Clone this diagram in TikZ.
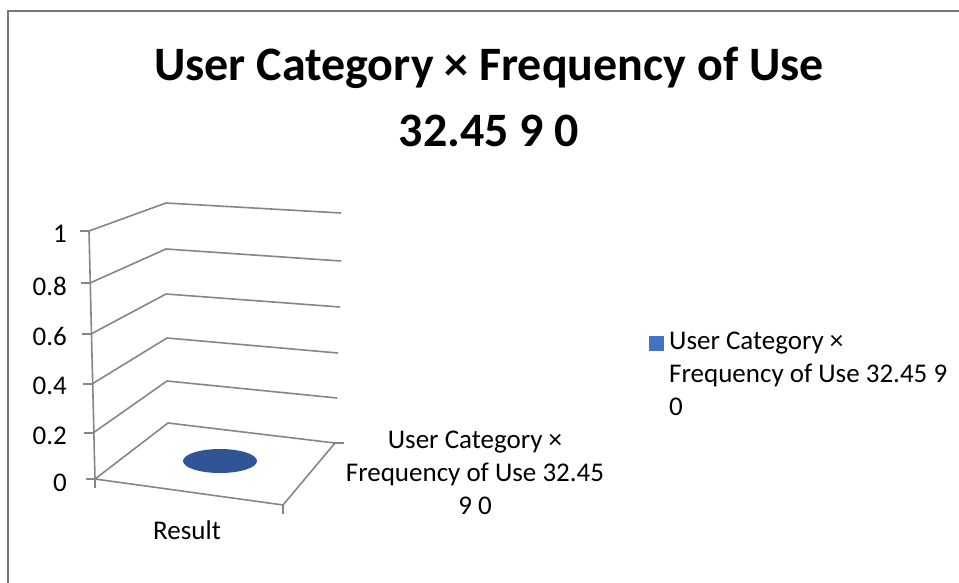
\documentclass[tikz,border=0pt]{standalone}
\usepackage{fontspec}
\setmainfont{Carlito}
\usetikzlibrary{positioning, shapes.geometric}
\definecolor{gridgray}{RGB}{134,134,134}
\definecolor{framegray}{RGB}{120,120,120}
\definecolor{discblue}{RGB}{47,85,151}
\definecolor{keyblue}{RGB}{68,114,196}
\tikzset{
    g1/.style={draw=gridgray, line width=1.6pt, line join=round},
    tk/.style={draw=gridgray, line width=1.6pt},
    lb/.style={inner sep=0pt, font=\fontsize{27}{33}\selectfont}
}
\begin{document}
\begin{tikzpicture}[x=1pt, y=-1pt]
\useasboundingbox (0,0) rectangle (959,583);

% frame (only left and top edges visible)
\draw[framegray, line width=1.5pt] (8,583) -- (8,11) -- (959,11);

% title
\node[inner sep=0pt, anchor=north, align=center, font=\fontsize{48}{66}\selectfont\bfseries] (T) at (489,47)
  {User Category × Frequency of Use\\32.45 9 0};

% Level 0 (floor)
\coordinate (L0F) at (95,479);
\coordinate (L0B) at (168,423);
\coordinate (L0R) at (335,443);
\coordinate (L0C) at (283,505);

% Levels 1..5 (back wall)
\coordinate (L1F) at (93,433); \coordinate (L1B) at (167,381); \coordinate (L1R) at (337,398);
\coordinate (L2F) at (92,384); \coordinate (L2B) at (167,338); \coordinate (L2R) at (338,353);
\coordinate (L3F) at (91,334); \coordinate (L3B) at (166,294); \coordinate (L3R) at (340,307);
\coordinate (L4F) at (90,283); \coordinate (L4B) at (166,249); \coordinate (L4R) at (341,261);
\coordinate (L5F) at (89,231); \coordinate (L5B) at (166,203); \coordinate (L5R) at (341,213);

% floor
\draw[g1] (L0F) -- (L0B) -- (L0R) -- (L0C) -- cycle;

% gridlines
\foreach \k in {1,...,5}
  \draw[g1] (L\k F) -- (L\k B) -- (L\k R);

% vertical axis
\draw[g1] (L5F) -- (L0F);

% ticks
\foreach \k in {0,...,5}
  \draw[tk] (L\k F) -- ++(-9,0);
\draw[tk] (L0F) -- ++(0,9);
\draw[tk] (L0C) -- ++(0,9);
\draw[tk] (L0R) -- ++(9,0);

% axis labels
\node[lb, anchor=east] (A0) at (67,483) {0};
\node[lb, anchor=east] (A1) at (67,436) {0.2};
\node[lb, anchor=east] (A2) at (67,386) {0.4};
\node[lb, anchor=east] (A3) at (67,336) {0.6};
\node[lb, anchor=east] (A4) at (67,286) {0.8};
\node[lb, anchor=east] (A5) at (67,234) {1};

% data point
\node[ellipse, fill=discblue, minimum width=74pt, minimum height=24pt, inner sep=0pt] (D) at (220,461) {};

% category labels
\node[lb, anchor=north] (C) at (187,521) {Result};
\node[lb, anchor=north, align=center] (S) at (475,431)
  {User Category ×\\Frequency of Use 32.45\\9 0};

% legend
\node[fill=keyblue, minimum size=15pt, inner sep=0pt] (K) at (656,343) {};
\node[lb, anchor=north west, align=left] (KT) at (669,332)
  {User Category ×\\Frequency of Use 32.45 9\\0};

\end{tikzpicture}
\end{document}
